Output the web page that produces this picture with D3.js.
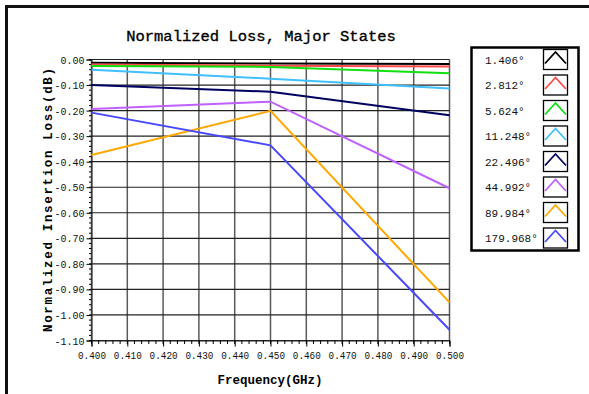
<!DOCTYPE html>
<html>
<head>
<meta charset="utf-8">
<script src="https://d3js.org/d3.v7.min.js"></script>
<style>
body { margin: 0; background: #fff; }
text { font-family: "Liberation Mono", "DejaVu Sans Mono", monospace; }
</style>
</head>
<body>
<div id="chart"></div>
<script>
// data
var freqs = [0.400, 0.450, 0.500];
var stateNames = ["1.406°", "2.812°", "5.624°", "11.248°", "22.496°", "44.992°", "89.984°", "179.968°"];
var stateColors = ["#000000", "#ff4a4a", "#10e010", "#40c0ff", "#000060", "#c060ff", "#ffa800", "#4848ff"];
var loss1406 = [-0.013, -0.016, -0.018];
var loss2812 = [-0.020, -0.024, -0.027];
var loss5624 = [-0.025, -0.029, -0.054];
var loss11248 = [-0.040, -0.075, -0.114];
var loss22496 = [-0.100, -0.126, -0.218];
var loss44992 = [-0.194, -0.165, -0.504];
var loss89984 = [-0.374, -0.201, -0.951];
var loss179968 = [-0.208, -0.336, -1.058];
var allLoss = [loss1406, loss2812, loss5624, loss11248, loss22496, loss44992, loss89984, loss179968];

var W = 589, H = 394;
var plotL = 91.5, plotR = 449.5, plotT = 59.5, plotB = 340.5;

var svg = d3.select("#chart").append("svg")
    .attr("width", W).attr("height", H);

// outer frame (only top and left show)
svg.append("path")
    .attr("d", "M6.5," + H + " V6.5 H" + W)
    .attr("fill", "none").attr("stroke", "#111").attr("stroke-width", 3);

var x = d3.scaleLinear().domain([0.400, 0.500]).range([plotL, plotR]);
var y = d3.scaleLinear().domain([-1.10, 0.00]).range([plotB, plotT]);

var xMajor = d3.range(0, 11).map(function(i){ return 0.400 + i * 0.01; });
var xMinor = d3.range(0, 51).map(function(i){ return 0.400 + i * 0.002; });
var yMajor = d3.range(0, 12).map(function(i){ return -i * 0.1; });
var yMinor = d3.range(0, 56).map(function(i){ return -i * 0.02; });

// grid
svg.append("g").selectAll("line").data(xMajor).enter().append("line")
    .attr("x1", function(d){ return x(d); }).attr("x2", function(d){ return x(d); })
    .attr("y1", plotT).attr("y2", plotB)
    .attr("stroke", "#5a5a5a").attr("stroke-width", 1.5);
svg.append("g").selectAll("line").data(yMajor).enter().append("line")
    .attr("x1", plotL).attr("x2", plotR)
    .attr("y1", function(d){ return y(d); }).attr("y2", function(d){ return y(d); })
    .attr("stroke", "#222").attr("stroke-width", 1.2);

// axes
var yAxis = d3.axisLeft(y).tickValues(yMajor).tickSize(5).tickPadding(2)
    .tickFormat(function(d){ return d3.format(".2f")(d).replace("−", "-"); });
var gy = svg.append("g").attr("transform", "translate(" + plotL + ",0)").call(yAxis);
gy.append("g").selectAll("line").data(yMinor).enter().append("line")
    .attr("x1", -2.5).attr("x2", 0)
    .attr("y1", function(d){ return y(d); }).attr("y2", function(d){ return y(d); })
    .attr("stroke", "#000");

var xAxis = d3.axisBottom(x).tickValues(xMajor).tickSize(6).tickPadding(5)
    .tickFormat(d3.format(".3f"));
var gx = svg.append("g").attr("transform", "translate(0," + plotB + ")").call(xAxis);
gx.append("g").selectAll("line").data(xMinor).enter().append("line")
    .attr("x1", function(d){ return x(d); }).attr("x2", function(d){ return x(d); })
    .attr("y1", 0).attr("y2", 3.5)
    .attr("stroke", "#000");

svg.selectAll(".tick text")
    .attr("font-family", "Liberation Mono, monospace")
    .attr("font-size", 11).attr("fill", "#111");
gx.selectAll(".tick text").attr("textLength", 28).attr("lengthAdjust", "spacingAndGlyphs");
gy.selectAll(".tick text").attr("textLength", function(d){ return d === 0 ? 24 : 30; })
    .attr("lengthAdjust", "spacingAndGlyphs");
svg.selectAll(".domain").attr("stroke", "#222");

// series lines
var line = d3.line()
    .x(function(d, i){ return x(freqs[i]); })
    .y(function(d){ return y(d); });
svg.append("g").selectAll("path").data(allLoss).enter().append("path")
    .attr("d", line)
    .attr("fill", "none")
    .attr("stroke", function(d, i){ return stateColors[i]; })
    .attr("stroke-width", 2);

// titles
svg.append("text").attr("x", 261).attr("y", 41)
    .attr("text-anchor", "middle").attr("font-size", 15.5)
    .attr("fill", "#000").attr("stroke", "#000").attr("stroke-width", 0.35)
    .text("Normalized Loss, Major States");

svg.append("text").attr("x", 270).attr("y", 384)
    .attr("text-anchor", "middle").attr("font-size", 12.5)
    .attr("font-weight", "bold").attr("fill", "#000")
    .text("Frequency(GHz)");

svg.append("text")
    .attr("transform", "translate(52,200) rotate(-90)")
    .attr("text-anchor", "middle").attr("font-size", 12.5)
    .attr("font-weight", "bold").attr("fill", "#000")
    .attr("textLength", 264).attr("lengthAdjust", "spacing")
    .text("Normalized Insertion Loss(dB)");

// legend
var leg = svg.append("g");
leg.append("rect").attr("x", 471.5).attr("y", 47.5).attr("width", 107).attr("height", 203)
    .attr("fill", "#fff").attr("stroke", "#000").attr("stroke-width", 2.5);
var rows = leg.selectAll("g.row").data(stateNames).enter().append("g")
    .attr("class", "row")
    .attr("transform", function(d, i){ return "translate(0," + (59.5 + i * 25.5) + ")"; });
rows.append("text").attr("x", 485).attr("y", 4)
    .attr("font-size", 11).attr("fill", "#111")
    .text(function(d){ return d; });
rows.append("rect").attr("x", 543.5).attr("y", -10).attr("width", 24).attr("height", 20)
    .attr("fill", "#fff").attr("stroke", "#000").attr("stroke-width", 1.3);
rows.append("path")
    .attr("d", "M545,4 L555.5,-7.5 L566,4")
    .attr("fill", "none")
    .attr("stroke", function(d, i){ return stateColors[i]; })
    .attr("stroke-width", 1.8);
</script>
</body>
</html>
